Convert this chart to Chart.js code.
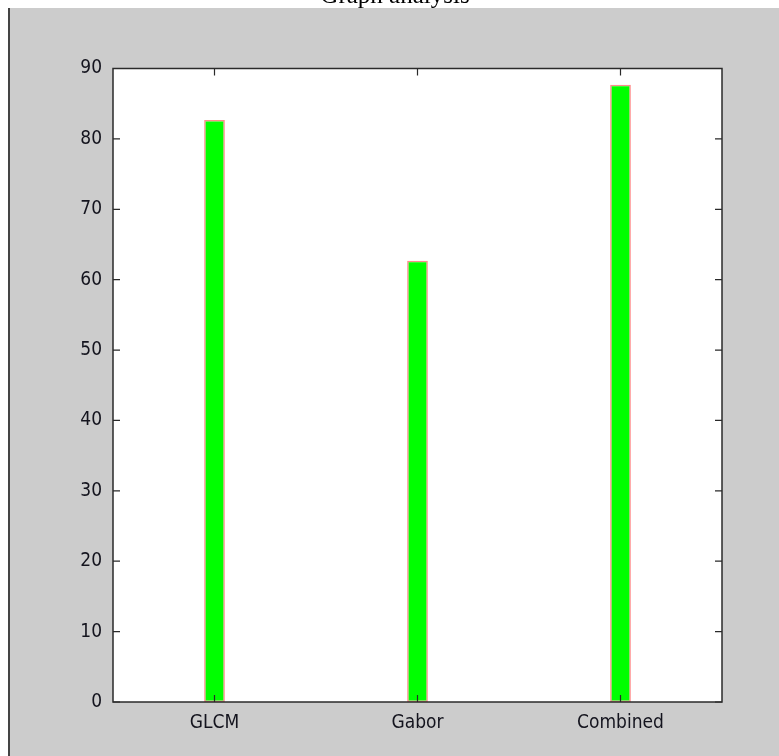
<!DOCTYPE html>
<html>
<head>
<meta charset="utf-8">
<script src="https://cdn.jsdelivr.net/npm/chart.js@4/dist/chart.umd.min.js"></script>
<style>
  html, body { margin: 0; padding: 0; background: #ffffff; overflow: hidden; }
  #wrap { position: relative; width: 779px; height: 756px; }
  #panel { position: absolute; left: 8px; top: 8px; right: 0; bottom: 0;
           background: #cccccc; border-left: 2px solid #444444; }
  #chart { position: absolute; left: 0; top: 0; }
</style>
</head>
<body>
<div id="wrap">
  <div id="panel"></div>
  <canvas id="chart" width="779" height="756"></canvas>
</div>
<script>
// ─── 데이터 ───
const categories = ['GLCM', 'Gabor', 'Combined'];
const accuracy = [82.7, 62.7, 87.7];
const yTicks = [0, 10, 20, 30, 40, 50, 60, 70, 80, 90];

const TITLE = 'Graph analysis';
const AXIS_COLOR = '#2a2a2a';
const LABEL_FONT = "'DejaVu Sans Condensed', 'Liberation Sans Narrow', 'Arial Narrow', sans-serif";

// 흰색 플롯 영역 + MATLAB 스타일 박스/안쪽 눈금 + 잘린 제목
const matlabFrame = {
  id: 'matlabFrame',
  beforeDatasetsDraw(chart) {
    const { ctx, chartArea: a } = chart;
    ctx.save();
    ctx.fillStyle = '#ffffff';
    ctx.fillRect(a.left, a.top, a.right - a.left, a.bottom - a.top);
    ctx.restore();
  },
  afterDraw(chart) {
    const { ctx, chartArea: a, scales } = chart;
    ctx.save();
    ctx.strokeStyle = AXIS_COLOR;
    ctx.lineWidth = 1.5;
    ctx.strokeRect(a.left, a.top, a.right - a.left, a.bottom - a.top);

    const len = 7;
    ctx.lineWidth = 1.2;
    ctx.beginPath();
    yTicks.forEach((v) => {
      const y = scales.y.getPixelForValue(v);
      ctx.moveTo(a.left, y); ctx.lineTo(a.left + len, y);
      ctx.moveTo(a.right, y); ctx.lineTo(a.right - len, y);
    });
    categories.forEach((_, i) => {
      const x = scales.x.getPixelForValue(i);
      ctx.moveTo(x, a.top); ctx.lineTo(x, a.top + len);
      ctx.moveTo(x, a.bottom); ctx.lineTo(x, a.bottom - len);
    });
    ctx.stroke();

    ctx.fillStyle = '#000000';
    ctx.font = "25px 'Liberation Serif', 'Times New Roman', serif";
    ctx.textAlign = 'center';
    ctx.textBaseline = 'alphabetic';
    ctx.fillText(TITLE, 395, 3);
    ctx.restore();
  },
};

new Chart(document.getElementById('chart'), {
  type: 'bar',
  data: {
    labels: categories,
    datasets: [{
      label: 'Accuracy',
      data: accuracy,
      backgroundColor: '#00ff00',
      borderColor: '#ff8c8c',
      borderWidth: 1.5,
      borderSkipped: false,
      barPercentage: 0.102,
      categoryPercentage: 1,
    }],
  },
  options: {
    responsive: false,
    animation: false,
    devicePixelRatio: 1,
    layout: { padding: { left: 0, right: 57, top: 68.5, bottom: 0 } },
    plugins: {
      legend: { display: false },
      title: { display: false },
      tooltip: { enabled: false },
    },
    scales: {
      x: {
        grid: { display: false },
        border: { display: false },
        ticks: { color: '#14141e', font: { family: LABEL_FONT, size: 19 }, padding: 2 },
        afterFit: (s) => { s.height = 54; },
      },
      y: {
        min: 0,
        max: 90,
        grid: { display: false },
        border: { display: false },
        ticks: { stepSize: 10, color: '#14141e', font: { family: LABEL_FONT, size: 19 }, padding: 3 },
        afterFit: (s) => { s.width = 113; },
      },
    },
  },
  plugins: [matlabFrame],
});
</script>
</body>
</html>
